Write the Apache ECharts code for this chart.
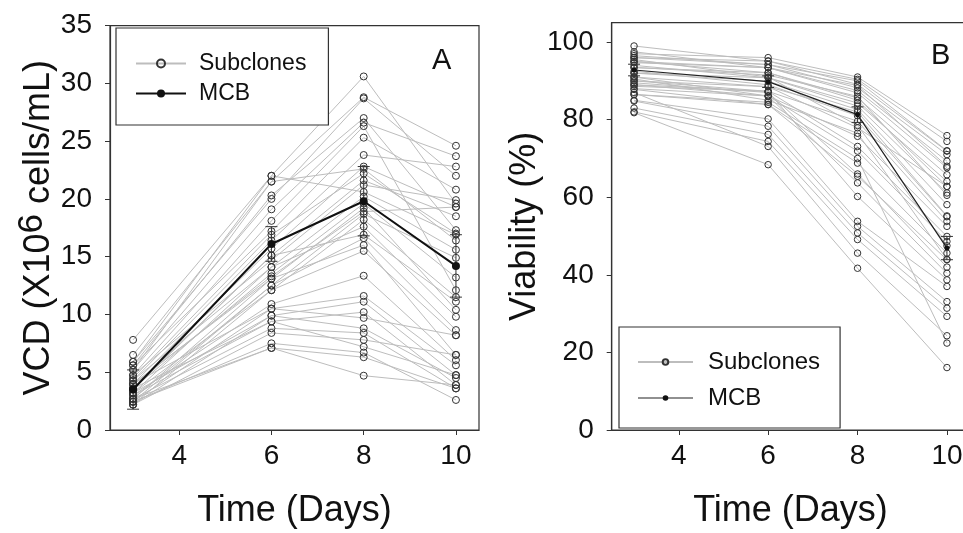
<!DOCTYPE html>
<html>
<head>
<meta charset="utf-8">
<script src="https://cdn.jsdelivr.net/npm/echarts@6/dist/echarts.min.js"></script>
<style>
html,body{margin:0;padding:0;background:#fff;overflow:hidden;}
#chart{width:963px;height:533px;}
</style>
</head>
<body>
<div id="chart"></div>
<script>
// ---------- data ----------
const days = [3, 6, 8, 10];
const xTicks = [4, 6, 8, 10];
const vcdTicks = [0, 5, 10, 15, 20, 25, 30, 35];
const viaTicks = [0, 20, 40, 60, 80, 100];

// Panel A: VCD (x10^6 cells/mL) per subclone at days 3, 6, 8, 10
const vcdSubclones = [
  [7.8, 22.0, 30.6, 19.6],
  [6.5, 21.5, 28.8, 24.6],
  [5.9, 20.0, 28.7, 22.0],
  [5.6, 20.3, 27.0, 17.3],
  [5.2, 19.1, 26.6, 23.7],
  [4.75, 18.1, 26.3, 12.1],
  [5.6, 17.2, 25.3, 20.8],
  [4.3, 16.4, 23.8, 22.8],
  [4.0, 15.7, 22.8, 19.3],
  [5.2, 21.5, 22.6, 16.4],
  [3.6, 15.1, 21.6, 18.5],
  [4.75, 14.7, 21.2, 19.9],
  [5.9, 22.0, 20.6, 16.9],
  [3.2, 14.1, 20.2, 15.6],
  [3.6, 13.55, 19.6, 13.2],
  [4.0, 13.1, 19.2, 10.4],
  [2.7, 12.5, 18.7, 14.9],
  [3.2, 12.1, 18.2, 11.5],
  [4.3, 14.1, 17.6, 9.8],
  [3.5, 15.1, 16.9, 11.1],
  [2.45, 12.5, 16.6, 8.65],
  [2.7, 13.1, 16.0, 6.5],
  [2.2, 12.1, 15.5, 8.2],
  [3.0, 10.9, 13.35, 6.05],
  [2.45, 10.5, 11.6, 5.6],
  [2.2, 9.9, 11.1, 4.75],
  [3.6, 9.4, 10.2, 3.9],
  [4.0, 10.5, 9.7, 8.2],
  [3.2, 9.9, 8.8, 4.5],
  [2.7, 8.8, 8.4, 3.6],
  [2.2, 8.4, 7.8, 6.5],
  [3.0, 9.4, 7.2, 4.75],
  [2.45, 7.5, 6.7, 2.6],
  [2.7, 7.1, 6.3, 3.6],
  [2.45, 7.1, 4.7, 3.9],
  [4.5, 16.9, 22.2, 17.0],
  [3.9, 13.3, 18.9, 19.3]
];
const vcdMCB = [3.5, 16.1, 19.8, 14.2];
const vcdMCBErr = [1.7, 1.5, 3.0, 2.7];

// Panel B: Viability (%) per subclone at days 3, 6, 8, 10
const viaSubclones = [
  [97.0, 96.0, 91.0, 75.9],
  [99.0, 95.1, 90.4, 74.4],
  [96.0, 95.1, 89.1, 71.9],
  [96.0, 94.2, 88.2, 71.0],
  [95.0, 93.4, 87.5, 69.3],
  [94.7, 93.4, 86.9, 67.6],
  [95.0, 92.1, 85.6, 65.8],
  [93.4, 92.1, 85.0, 62.8],
  [94.0, 90.8, 84.3, 64.1],
  [92.0, 90.8, 83.5, 61.1],
  [92.0, 89.9, 82.6, 58.1],
  [91.0, 88.5, 82.0, 55.2],
  [90.0, 87.3, 79.6, 53.8],
  [90.0, 88.5, 77.9, 62.8],
  [89.0, 86.1, 75.7, 52.5],
  [88.6, 87.3, 73.1, 49.9],
  [88.0, 86.1, 71.9, 48.6],
  [87.8, 83.9, 68.8, 45.6],
  [86.5, 83.9, 65.4, 43.9],
  [91.0, 86.1, 63.7, 40.4],
  [89.0, 87.3, 60.2, 38.7],
  [85.0, 80.2, 53.8, 37.0],
  [84.8, 78.3, 52.5, 33.1],
  [83.0, 76.2, 50.8, 31.4],
  [82.0, 74.4, 49.1, 29.3],
  [87.0, 73.1, 45.6, 24.3],
  [81.8, 68.4, 41.7, 16.1],
  [96.5, 94.2, 90.0, 72.0],
  [97.5, 93.4, 88.8, 68.0],
  [93.5, 91.5, 86.0, 60.5],
  [92.5, 89.0, 81.0, 55.0],
  [95.5, 91.0, 78.5, 47.5],
  [90.5, 85.0, 76.5, 44.0],
  [86.5, 84.5, 70.0, 22.4],
  [89.5, 87.0, 66.0, 42.0]
];
const viaMCB = [92.8, 89.8, 81.3, 46.9];
const viaMCBErr = [1.5, 1.5, 2.0, 3.0];

// ---------- chart ----------
const FONT = '"Liberation Sans", Arial, sans-serif';
const chart = echarts.init(document.getElementById('chart'), null, {renderer: 'canvas'});

function pts(vals) { return days.map((d, i) => [d, vals[i]]); }
function errData(mean, err) { return days.map((d, i) => [d, mean[i] - err[i], mean[i] + err[i]]); }

function subSeries(rows, idx, size) {
  return rows.map(r => ({
    type: 'line', name: 'Subclones', xAxisIndex: idx, yAxisIndex: idx,
    data: pts(r), symbol: 'circle', symbolSize: size, showSymbol: true,
    lineStyle: {color: '#bdbdbd', width: 1},
    itemStyle: {color: 'rgba(255,255,255,0)', borderColor: '#333', borderWidth: 1},
    silent: true, animation: false, z: 2
  }));
}
function errSeries(mean, err, idx) {
  return {
    type: 'custom', xAxisIndex: idx, yAxisIndex: idx, silent: true, animation: false, z: 3,
    data: errData(mean, err), encode: {x: 0, y: [1, 2]},
    renderItem: function (params, api) {
      const x = api.value(0);
      const lo = api.coord([x, api.value(1)]);
      const hi = api.coord([x, api.value(2)]);
      const st = {stroke: '#333', lineWidth: 1};
      return {type: 'group', children: [
        {type: 'line', shape: {x1: lo[0], y1: lo[1], x2: hi[0], y2: hi[1]}, style: st},
        {type: 'line', shape: {x1: lo[0] - 6, y1: lo[1], x2: lo[0] + 6, y2: lo[1]}, style: st},
        {type: 'line', shape: {x1: hi[0] - 6, y1: hi[1], x2: hi[0] + 6, y2: hi[1]}, style: st}
      ]};
    }
  };
}

function xAxis(idx) {
  return {
    type: 'value', gridIndex: idx, min: 2.5, max: 10.5,
    axisLine: {show: true, onZero: false, lineStyle: {color: '#333', width: 1.2}},
    axisTick: {show: true, customValues: xTicks, length: 5, lineStyle: {color: '#333'}},
    axisLabel: {customValues: xTicks, fontSize: 28, margin: 12, color: '#111', fontFamily: FONT},
    splitLine: {show: false},
    name: 'Time (Days)', nameLocation: 'middle', nameGap: 63,
    nameTextStyle: {fontSize: 36, color: '#111', fontFamily: FONT}
  };
}

const option = {
  backgroundColor: '#fff',
  animation: false,
  grid: [
    {left: 110, width: 369, top: 25.6, bottom: 103, show: true, borderColor: '#333', borderWidth: 1.2,
     containLabel: false, outerBoundsMode: 'none'},
    {left: 611.7, width: 357.6, top: 22.7, bottom: 103, show: true, borderColor: '#333', borderWidth: 1.2,
     containLabel: false, outerBoundsMode: 'none'}
  ],
  xAxis: [xAxis(0), xAxis(1)],
  yAxis: [
    {
      type: 'value', gridIndex: 0, min: 0, max: 35, interval: 5,
      axisLine: {show: true, lineStyle: {color: '#333', width: 1.2}},
      axisTick: {show: true, length: 5, lineStyle: {color: '#333'}},
      axisLabel: {fontSize: 28, margin: 18, color: '#111', fontFamily: FONT},
      splitLine: {show: false},
      name: 'VCD (X10{sup|6} cells/mL)', nameLocation: 'middle', nameGap: 45,
      nameTextStyle: {fontSize: 36, color: '#111', fontFamily: FONT,
        rich: {sup: {fontSize: 35, color: '#111', fontFamily: FONT, padding: [0, 0, 14, 0]}}}
    },
    {
      type: 'value', gridIndex: 1, min: 0, max: 105,
      axisLine: {show: true, lineStyle: {color: '#333', width: 1.2}},
      axisTick: {show: true, customValues: viaTicks, length: 5, lineStyle: {color: '#333'}},
      axisLabel: {customValues: viaTicks, fontSize: 28, margin: 18, color: '#111', fontFamily: FONT},
      splitLine: {show: false},
      name: 'Viability (%)', nameLocation: 'middle', nameGap: 55,
      nameTextStyle: {fontSize: 36, color: '#111', fontFamily: FONT}
    }
  ],
  legend: [
    {
      data: ['Subclones', 'MCB'], orient: 'vertical', left: 116, top: 28,
      padding: [24, 22, 20, 19], itemGap: 7, itemWidth: 50, itemHeight: 10,
      borderColor: '#333', borderWidth: 1.2, backgroundColor: '#fff',
      selectedMode: false,
      textStyle: {fontSize: 23, color: '#111', fontFamily: FONT, padding: [0, 0, 0, 8]}
    },
    {
      data: [
        {name: 'Subclones'},
        {name: 'MCB', itemStyle: {color: '#111', borderWidth: 0}, lineStyle: {color: '#222', width: 1.2}}
      ],
      orient: 'vertical', left: 619, top: 327,
      padding: [23, 20, 18, 18], itemGap: 12, itemWidth: 55, itemHeight: 7,
      borderColor: '#333', borderWidth: 1.2, backgroundColor: '#fff',
      selectedMode: false,
      textStyle: {fontSize: 24, color: '#111', fontFamily: FONT, padding: [0, 0, 0, 10]}
    }
  ],
  graphic: [
    {type: 'text', left: 432, top: 46, style: {text: 'A', fontSize: 29, fill: '#111', fontFamily: FONT}},
    {type: 'text', left: 931, top: 41, style: {text: 'B', fontSize: 29, fill: '#111', fontFamily: FONT}}
  ],
  series: [].concat(
    subSeries(vcdSubclones, 0, 7),
    [errSeries(vcdMCB, vcdMCBErr, 0),
     {type: 'line', name: 'MCB', xAxisIndex: 0, yAxisIndex: 0, data: pts(vcdMCB),
      symbol: 'circle', symbolSize: 8, lineStyle: {color: '#111', width: 2},
      itemStyle: {color: '#111'}, silent: true, animation: false, z: 5}],
    subSeries(viaSubclones, 1, 6.5),
    [errSeries(viaMCB, viaMCBErr, 1),
     {type: 'line', name: 'MCB', xAxisIndex: 1, yAxisIndex: 1, data: pts(viaMCB),
      symbol: 'circle', symbolSize: 5, lineStyle: {color: '#222', width: 1.2},
      itemStyle: {color: '#111'}, silent: true, animation: false, z: 5}]
  )
};
chart.setOption(option);
</script>
</body>
</html>
